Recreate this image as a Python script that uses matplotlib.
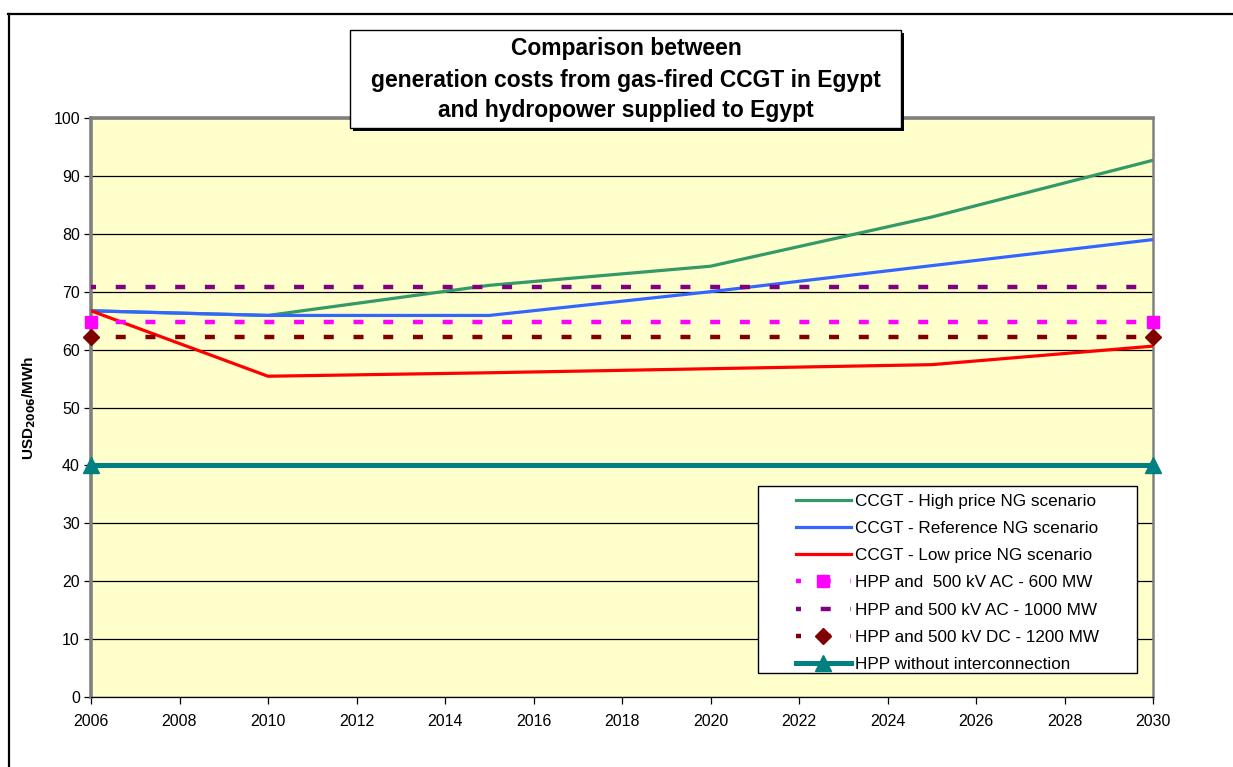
import matplotlib
matplotlib.use('Agg')
import matplotlib.pyplot as plt
from matplotlib.patches import Rectangle
from matplotlib.lines import Line2D

plt.rcParams['font.family'] = ['Liberation Sans', 'DejaVu Sans']
plt.rcParams['lines.scale_dashes'] = False

# data
years = [2006, 2010, 2015, 2020, 2025, 2030]
high_price = [66.7, 65.9, 71.1, 74.4, 82.9, 92.7]
reference = [66.7, 65.9, 65.9, 70.0, 74.5, 79.0]
low_price = [66.7, 55.4, 56.0, 56.7, 57.4, 60.6]

flat_years = [2006, 2030]
hpp_ac_600 = [64.8, 64.8]
hpp_ac_1000 = [70.8, 70.8]
hpp_dc_1200 = [62.1, 62.1]
hpp_no_link = [40.0, 40.0]

W, H = 1233, 767
fig = plt.figure(figsize=(W / 100, H / 100), dpi=100)

# outer frame (top and left only visible)
fig.add_artist(Line2D([8 / W, 1], [1 - 14 / H, 1 - 14 / H], color='black', lw=1.6))
fig.add_artist(Line2D([8.5 / W, 8.5 / W], [0, 1 - 14 / H], color='black', lw=1.6))

ax = fig.add_axes([91 / W, (H - 697) / H, (1153 - 91) / W, (697 - 118) / H])
ax.set_facecolor('#FFFFCC')

ax.plot(years, high_price, color='#339966', lw=2.3, label='CCGT - High price NG scenario', zorder=3)
ax.plot(years, reference, color='#3366FF', lw=2.3, label='CCGT - Reference NG scenario', zorder=3)
ax.plot(years, low_price, color='#FF0000', lw=2.3, label='CCGT - Low price NG scenario', zorder=3)

dash = (3.6, (7.2, 14.2))
ax.plot(flat_years, hpp_ac_600, color='#FF00FF', lw=3.2, linestyle=dash, dash_capstyle='butt',
        marker='s', markersize=9, label='HPP and  500 kV AC - 600 MW', clip_on=False, zorder=4)
ax.plot(flat_years, hpp_ac_1000, color='#800080', lw=3.2, linestyle=dash, dash_capstyle='butt',
        label='HPP and 500 kV AC - 1000 MW', clip_on=False, zorder=4)
ax.plot(flat_years, hpp_dc_1200, color='#800000', lw=3.2, linestyle=dash, dash_capstyle='butt',
        marker='D', markersize=8, label='HPP and 500 kV DC - 1200 MW', clip_on=False, zorder=4)
ax.plot(flat_years, hpp_no_link, color='#008080', lw=3.6, marker='^', markersize=12,
        label='HPP without interconnection', clip_on=False, zorder=4)

ax.set_xlim(2006, 2030)
ax.set_ylim(0, 100)
ax.set_xticks(range(2006, 2031, 2))
ax.set_yticks(range(0, 101, 10))
ax.yaxis.grid(True, color='black', lw=0.9)
ax.set_axisbelow(True)
ax.tick_params(axis='both', direction='out', length=5, width=0.9, color='black',
               labelsize=11.5, pad=7)
ax.tick_params(axis='y', pad=3)

for side in ['top', 'left', 'right']:
    ax.spines[side].set_color('#808080')
ax.spines['top'].set_linewidth(2.6)
ax.spines['left'].set_linewidth(2.6)
ax.spines['right'].set_linewidth(1.8)
ax.spines['bottom'].set_color('black')
ax.spines['bottom'].set_linewidth(0.9)

ax.set_ylabel('USD$_{\\mathbf{2006}}$/MWh', fontsize=11, fontweight='bold', labelpad=11)

# legend box drawn separately so the entries can sit with Excel-like left padding
ax.add_patch(Rectangle((758 / W, 1 - 673 / H), (1137 - 758) / W, (673 - 486) / H,
                       transform=fig.transFigure, facecolor='white', edgecolor='black',
                       lw=1.0, clip_on=False, zorder=5))
leg = ax.legend(loc='upper left', bbox_to_anchor=(796 / W, 1 - 494 / H),
                bbox_transform=fig.transFigure, borderaxespad=0, borderpad=0,
                fontsize=12.3, handlelength=3.2, handletextpad=0.25, labelspacing=0.71,
                frameon=False, numpoints=1)
leg.set_zorder(6)

# title box with shadow
fig.add_artist(Rectangle((353 / W, 1 - 131 / H), (901 - 350) / W, (128 - 30) / H,
                         transform=fig.transFigure, facecolor='black', edgecolor='none', zorder=7))
fig.add_artist(Rectangle((350 / W, 1 - 128 / H), (901 - 350) / W, (128 - 30) / H,
                         transform=fig.transFigure, facecolor='white', edgecolor='black',
                         lw=1.0, zorder=8))
title_lines = ['Comparison between',
               'generation costs from gas-fired CCGT in Egypt',
               'and hydropower supplied to Egypt']
for i, line in enumerate(title_lines):
    fig.text(626 / W, 1 - (49 + 31 * i) / H, line, ha='center', va='center',
             fontsize=16.5, fontweight='bold', zorder=9)

fig.savefig('out.png', dpi=100)
plt.close()
